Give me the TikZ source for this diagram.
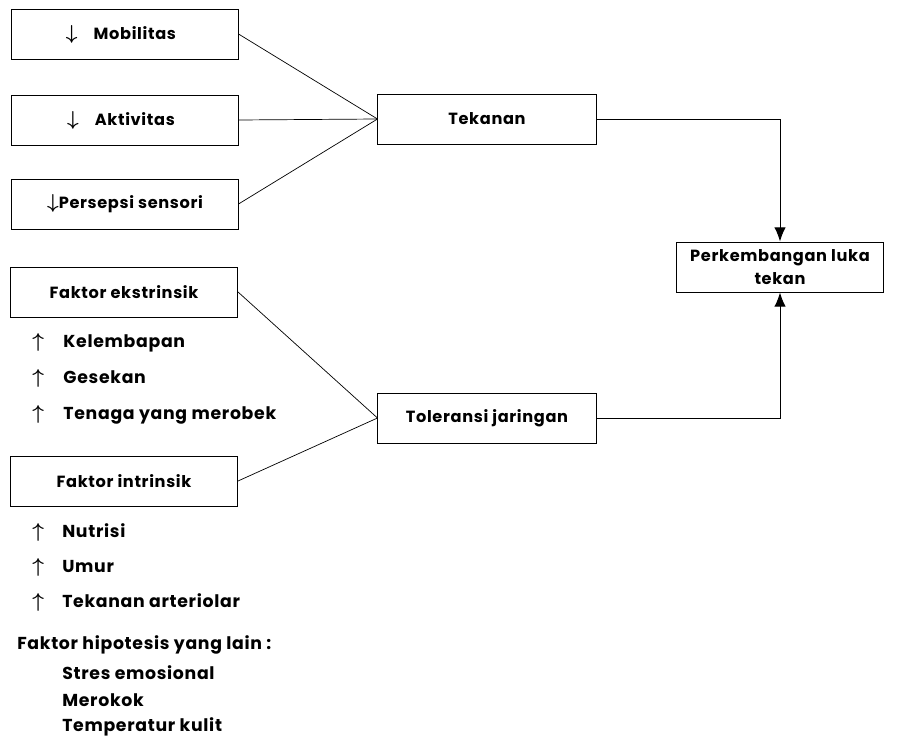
\documentclass[tikz,border=0pt]{standalone}
\usepackage{fontspec}
\setmainfont{Poppins}[LetterSpace=4]
\usetikzlibrary{arrows.meta}
\newcommand{\turun}{{\boldmath\Large$\downarrow$}}
\newcommand{\naik}{{\boldmath\Large$\uparrow$}}
\tikzset{
  box/.style={draw, line width=0.7pt, minimum height=1.25cm, inner sep=2pt, align=center, font=\bfseries\fontsize{11.5}{16}\selectfont},
  item/.style={anchor=west, inner sep=0pt, font=\bfseries\fontsize{12.3}{14}\selectfont}
}

\begin{document}
\begin{tikzpicture}[x=0.025cm,y=-0.025cm]
\useasboundingbox (0,0) rectangle (915,736);
% kotak kiri atas
\node[box, minimum width=5.65cm] (mob) at (125,34) {\turun\quad Mobilitas\ \ };
\node[box, minimum width=5.65cm] (akt) at (125,120) {\turun\quad Aktivitas\ \ };
\node[box, minimum width=5.65cm] (sen) at (125,204) {\turun Persepsi sensori};
\node[box, minimum width=5.45cm] (tek) at (487,119) {Tekanan};

% faktor
\node[box, minimum width=5.675cm] (eks) at (124,292) {Faktor ekstrinsik};
\node[box, minimum width=5.675cm] (int) at (124,481) {Faktor intrinsik};
\node[box, minimum width=5.45cm] (tol) at (487,418) {Toleransi jaringan};
\node[box, minimum width=5.175cm] (luka) at (780,267) {Perkembangan luka\\tekan};

\node[item] (kel) at (32,343) {\makebox[0.78cm][l]{\naik}Kelembapan};
\node[item] (ges) at (32,378) {\makebox[0.78cm][l]{\naik}Gesekan};
\node[item] (ten) at (32,415) {\makebox[0.78cm][l]{\naik}Tenaga yang merobek};
\node[item] (nut) at (32,532) {\makebox[0.75cm][l]{\naik}Nutrisi};
\node[item] (umr) at (32,567) {\makebox[0.75cm][l]{\naik}Umur};
\node[item] (art) at (32,602) {\makebox[0.75cm][l]{\naik}Tekanan arteriolar};

% faktor lain
\node[item] (hip) at (17,645) {Faktor hipotesis yang lain :};
\node[item] (str) at (62,673) {Stres emosional};
\node[item] (rok) at (62,700) {Merokok};
\node[item] (kul) at (62,727) {Temperatur kulit};

\draw[line width=0.5pt] (mob.east) -- (tek.west);
\draw[line width=0.5pt] (akt.east) -- (tek.west);
\draw[line width=0.5pt] (sen.east) -- (tek.west);
\draw[line width=0.5pt] (eks.east) -- (tol.west);
\draw[line width=0.5pt] (int.east) -- (tol.west);
\draw[line width=0.7pt, -{Latex[length=3.5mm,width=2.8mm]}] (tek.east) -| (luka.north);
\draw[line width=0.7pt, -{Latex[length=3.5mm,width=2.8mm]}] (tol.east) -| (luka.south);
\end{tikzpicture}
\end{document}
